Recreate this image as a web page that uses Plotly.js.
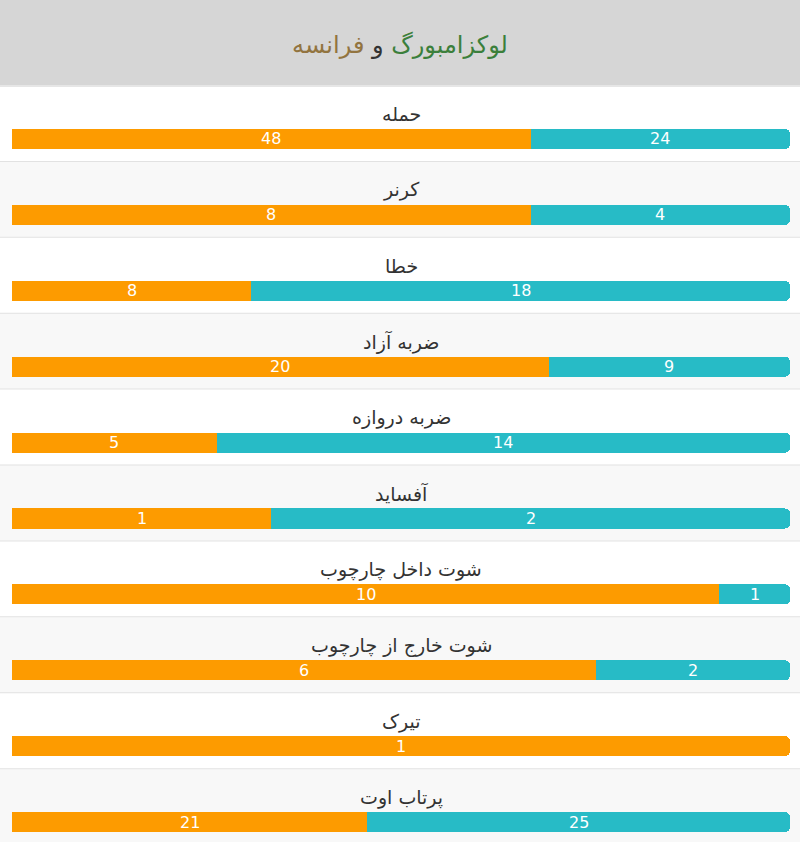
<!DOCTYPE html>
<html>
<head>
<meta charset="utf-8">
<script src="https://cdn.plot.ly/plotly-3.0.1.min.js"></script>
<style>html,body{margin:0;padding:0;background:#fff;}#chart{width:800px;height:842px;}</style>
</head>
<body>
<div id="chart"></div>
<script>
const categories = ["حمله","کرنر","خطا","ضربه آزاد","ضربه دروازه","آفساید","شوت داخل چارچوب","شوت خارج از چارچوب","تیرک","پرتاب اوت"];
const franceValues = [48, 8, 8, 20, 5, 1, 10, 6, 1, 21];
const luxValues = [24, 4, 18, 9, 14, 2, 1, 2, 0, 25];
const teamLux = "لوکزامبورگ";
const teamFra = "فرانسه";
const joiner = "و";

const ORANGE = "#fd9b00";
const TEAL = "#27bbc6";
const FONT = "DejaVu Sans, sans-serif";
const ROW_PX = 75.9;
const BAR_W = 0.264, BAR_OFF = 0.066;

const barCommon = {
  type: "bar", orientation: "h", y: categories,
  width: BAR_W, offset: BAR_OFF, textposition: "none",
  hoverinfo: "skip", cliponaxis: false
};
const traces = [
  Object.assign({}, barCommon, {x: franceValues, marker: {color: ORANGE, cornerradius: 5, line:{width:0}}}),
  Object.assign({}, barCommon, {x: luxValues, marker: {color: TEAL, cornerradius: 5, line:{width:0}}})
];

const shapes = [];
categories.forEach((c, i) => {
  shapes.push({type: "rect", xref: "paper", yref: "y", x0: -0.05, x1: 1.05, y0: i - 0.5, y1: i + 0.5,
    fillcolor: i % 2 === 0 ? "#ffffff" : "#f8f8f8", line: {width: 0}, layer: "below"});
  shapes.push({type: "line", xref: "paper", yref: "y", x0: -0.05, x1: 1.05, y0: i + 0.5, y1: i + 0.5,
    line: {color: "#e2e2e2", width: 2}, layer: "below"});
});
shapes.push({type: "rect", xref: "paper", yref: "paper", x0: -0.05, x1: 1.05, y0: 1, y1: 1.2,
  fillcolor: "#d6d6d6", line: {width: 0}, layer: "below"});
shapes.push({type: "line", xref: "paper", yref: "paper", x0: -0.05, x1: 1.05, y0: 1, y1: 1,
  line: {color: "#e6e6e6", width: 2}, layer: "below"});

const annotations = categories.map(c => ({
  xref: "paper", yref: "y", x: 0.5, y: c, yshift: 10, text: c, showarrow: false,
  xanchor: "center", yanchor: "middle", font: {family: FONT, size: 19, color: "#333333"}
}));
// value labels, centred in each segment (positions derived from the data arrays)
const valShift = -(BAR_OFF + BAR_W / 2) * ROW_PX;
categories.forEach((c, i) => {
  const a = franceValues[i], b = luxValues[i], t = a + b;
  if (a > 0) annotations.push({
    xref: "x", yref: "y", x: (a / 2) / t, y: c, yshift: valShift, text: String(a), showarrow: false,
    xanchor: "center", yanchor: "middle", font: {family: FONT, size: 16, color: "#ffffff"}
  });
  if (b > 0) annotations.push({
    xref: "x", yref: "y", x: (a + b / 2) / t, y: c, yshift: valShift, text: String(b), showarrow: false,
    xanchor: "center", yanchor: "middle", font: {family: FONT, size: 16, color: "#ffffff"}
  });
});

const layout = {
  width: 800, height: 842,
  margin: {l: 12, r: 10, t: 86, b: 0, pad: 0},
  paper_bgcolor: "#ffffff", plot_bgcolor: "rgba(0,0,0,0)",
  barmode: "stack", barnorm: "fraction",
  showlegend: false,
  title: {
    text: '<span style="color:#3b7f3b">' + teamLux + '</span> <span style="color:#333333">' + joiner + '</span> <span style="color:#92743f">' + teamFra + '</span>',
    x: 0.5, xanchor: "center", y: 1 - 45/842, yanchor: "middle", yref: "container",
    font: {family: FONT, size: 24, color: "#333333"}
  },
  xaxis: {range: [0, 1], visible: false, fixedrange: true},
  yaxis: {type: "category", categoryorder: "array", categoryarray: categories, range: [9.46, -0.5],
    showticklabels: false, showgrid: false, zeroline: false, ticks: "", fixedrange: true},
  shapes: shapes,
  annotations: annotations,
  font: {family: FONT}
};

Plotly.newPlot("chart", traces, layout, {displayModeBar: false, staticPlot: true});
</script>
</body>
</html>
